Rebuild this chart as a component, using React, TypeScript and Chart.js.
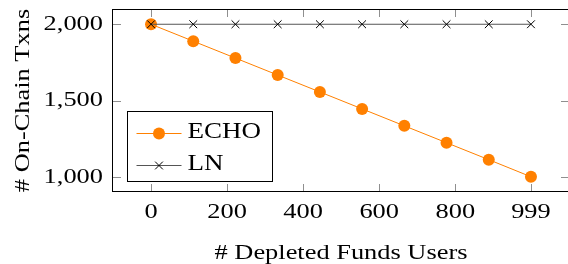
import React, { useEffect, useRef } from 'react';
import { Chart, registerables } from 'chart.js';

Chart.register(...registerables);

// ---- data ----
const usersX = [0, 111, 222, 333, 444, 555, 666, 777, 888, 999];
const echoTxns = [2000, 1889, 1778, 1667, 1556, 1445, 1334, 1223, 1112, 1000];
const lnTxns = [2000, 2000, 2000, 2000, 2000, 2000, 2000, 2000, 2000, 2000];
const xTickValues = [0, 200, 400, 600, 800, 999];
const yTickValues = [1000, 1500, 2000];
const seriesNames = ['ECHO', 'LN'];
const xTitle = '# Depleted Funds Users';
const yTitle = '# On-Chain Txns';

const FONT = "'Liberation Serif', 'Times New Roman', serif";
const STRETCH = 1.2;
const ORANGE = '#ff8000';

const frameTicksPlugin = {
  id: 'frameTicks',
  beforeDatasetsDraw(chart: any) {
    const { ctx, chartArea: a, scales } = chart;
    const L = 8;
    ctx.save();
    ctx.strokeStyle = '#8f8f8f';
    ctx.lineWidth = 1;
    ctx.beginPath();
    for (const t of scales.x.ticks) {
      const px = Math.round(scales.x.getPixelForValue(t.value)) + 0.5;
      ctx.moveTo(px, a.bottom);
      ctx.lineTo(px, a.bottom - L);
      ctx.moveTo(px, a.top);
      ctx.lineTo(px, a.top + L);
    }
    for (const t of scales.y.ticks) {
      const py = Math.round(scales.y.getPixelForValue(t.value)) + 0.5;
      ctx.moveTo(a.left, py);
      ctx.lineTo(a.left + L, py);
      ctx.moveTo(a.right, py);
      ctx.lineTo(a.right - L, py);
    }
    ctx.stroke();
    ctx.restore();
  },
  afterDatasetsDraw(chart: any) {
    const { ctx, chartArea: a } = chart;
    ctx.save();
    ctx.strokeStyle = '#000';
    ctx.lineWidth = 1;
    const l = Math.round(a.left) - 0.5;
    const t = Math.round(a.top) + 0.5;
    const r = Math.round(a.right) - 0.5;
    const b = Math.round(a.bottom) - 0.5;
    ctx.strokeRect(l, t, r - l, b - t);
    ctx.restore();
  },
};

const boxLegendPlugin = {
  id: 'boxLegend',
  afterDraw(chart: any) {
    const { ctx, chartArea: a } = chart;
    const bx = Math.round(a.left + 14) + 0.5;
    const bh = 70;
    const bw = 145;
    const by = Math.round(a.bottom - 11 - bh) + 0.5;
    ctx.save();
    ctx.fillStyle = '#fff';
    ctx.fillRect(bx, by, bw, bh);
    ctx.strokeStyle = '#000';
    ctx.lineWidth = 1;
    ctx.strokeRect(bx, by, bw, bh);
    const rows = [21, 53];
    seriesNames.forEach((name, i) => {
      const ds = chart.data.datasets.find((d: any) => d.label === name);
      const cy = Math.round(by + rows[i]) + 0.5;
      const x0 = bx + 9;
      const x1 = bx + 54;
      const mx = (x0 + x1) / 2;
      ctx.strokeStyle = ds.borderColor;
      ctx.lineWidth = 1;
      ctx.beginPath();
      ctx.moveTo(x0, cy);
      ctx.lineTo(x1, cy);
      ctx.stroke();
      if (ds.pointStyle === 'circle') {
        ctx.fillStyle = ds.pointBackgroundColor;
        ctx.beginPath();
        ctx.arc(mx, cy, ds.pointRadius, 0, Math.PI * 2);
        ctx.fill();
      } else {
        const o = ds.pointRadius * Math.SQRT1_2;
        ctx.strokeStyle = ds.pointBorderColor;
        ctx.beginPath();
        ctx.moveTo(mx - o, cy - o);
        ctx.lineTo(mx + o, cy + o);
        ctx.moveTo(mx - o, cy + o);
        ctx.lineTo(mx + o, cy - o);
        ctx.stroke();
      }
      ctx.fillStyle = '#000';
      ctx.font = `22.5px ${FONT}`;
      ctx.textAlign = 'left';
      ctx.textBaseline = 'middle';
      ctx.fillText(name, bx + 60, cy - 1.5);
    });
    ctx.restore();
  },
};

export default function App() {
  const canvasRef = useRef<HTMLCanvasElement | null>(null);

  useEffect(() => {
    const canvas = canvasRef.current;
    if (!canvas) return;
    const ctx = canvas.getContext('2d') as any;
    // wide serif lettering: stretch text horizontally about its anchor
    const origFill = ctx.fillText.bind(ctx);
    const origMeasure = ctx.measureText.bind(ctx);
    ctx.fillText = (text: string, x: number, y: number) => {
      ctx.save();
      ctx.translate(x, y);
      ctx.scale(STRETCH, 1);
      origFill(text, 0, 0);
      ctx.restore();
    };
    ctx.measureText = (text: string) => {
      const m = origMeasure(text);
      return {
        width: m.width * STRETCH,
        actualBoundingBoxAscent: m.actualBoundingBoxAscent,
        actualBoundingBoxDescent: m.actualBoundingBoxDescent,
        actualBoundingBoxLeft: m.actualBoundingBoxLeft * STRETCH,
        actualBoundingBoxRight: m.actualBoundingBoxRight * STRETCH,
      };
    };

    const tickFont = { family: FONT, size: 22 };
    const chart = new Chart(ctx, {
      type: 'line',
      data: {
        datasets: [
          {
            label: seriesNames[0],
            data: usersX.map((x, i) => ({ x, y: echoTxns[i] })),
            borderColor: ORANGE,
            backgroundColor: ORANGE,
            borderWidth: 1,
            pointStyle: 'circle',
            pointRadius: 6,
            pointBackgroundColor: ORANGE,
            pointBorderColor: ORANGE,
            pointBorderWidth: 0,
            order: 1,
          },
          {
            label: seriesNames[1],
            data: usersX.map((x, i) => ({ x, y: lnTxns[i] })),
            borderColor: '#555555',
            backgroundColor: '#000000',
            borderWidth: 1,
            pointStyle: 'crossRot',
            pointRadius: 5.5,
            pointBackgroundColor: '#000000',
            pointBorderColor: '#000000',
            pointBorderWidth: 1,
            order: 0,
          },
        ] as any,
      },
      options: {
        responsive: false,
        animation: false,
        events: [],
        layout: { padding: { top: 9, left: 0, right: 7, bottom: 0 } },
        plugins: { legend: { display: false }, tooltip: { enabled: false } },
        scales: {
          x: {
            type: 'linear',
            min: -100,
            max: 1099,
            grid: { display: false, drawTicks: false, tickLength: 0 },
            border: { display: false },
            afterBuildTicks: (s: any) => {
              s.ticks = xTickValues.map((v) => ({ value: v }));
            },
            afterFit: (s: any) => {
              s.height = 72;
              s.paddingLeft = 0;
              s.paddingRight = 0;
            },
            ticks: {
              font: tickFont,
              color: '#000',
              padding: 7,
              maxRotation: 0,
              autoSkip: false,
              callback: (v: any) => String(v),
            },
            title: {
              display: true,
              text: xTitle,
              color: '#000',
              font: tickFont,
              padding: { top: 0, bottom: -2 },
            },
          },
          y: {
            type: 'linear',
            min: 900,
            max: 2100,
            grid: { display: false, drawTicks: false, tickLength: 0 },
            border: { display: false },
            afterBuildTicks: (s: any) => {
              s.ticks = yTickValues.map((v) => ({ value: v }));
            },
            afterFit: (s: any) => {
              s.width = 113;
              s.paddingTop = 0;
              s.paddingBottom = 0;
            },
            ticks: {
              font: tickFont,
              color: '#000',
              padding: 10,
              callback: (v: any) => Number(v).toLocaleString('en-US'),
            },
            title: {
              display: true,
              text: yTitle,
              color: '#000',
              font: tickFont,
              padding: { top: 10.5, bottom: 0 },
            },
          },
        },
      } as any,
      plugins: [frameTicksPlugin, boxLegendPlugin],
    });
    return () => chart.destroy();
  }, []);

  return (
    <div
      style={{
        position: 'fixed',
        left: 0,
        top: 0,
        width: 568,
        height: 264,
        overflow: 'hidden',
        background: '#fff',
      }}
    >
      <canvas ref={canvasRef} width={576} height={264} style={{ display: 'block' }} />
    </div>
  );
}
